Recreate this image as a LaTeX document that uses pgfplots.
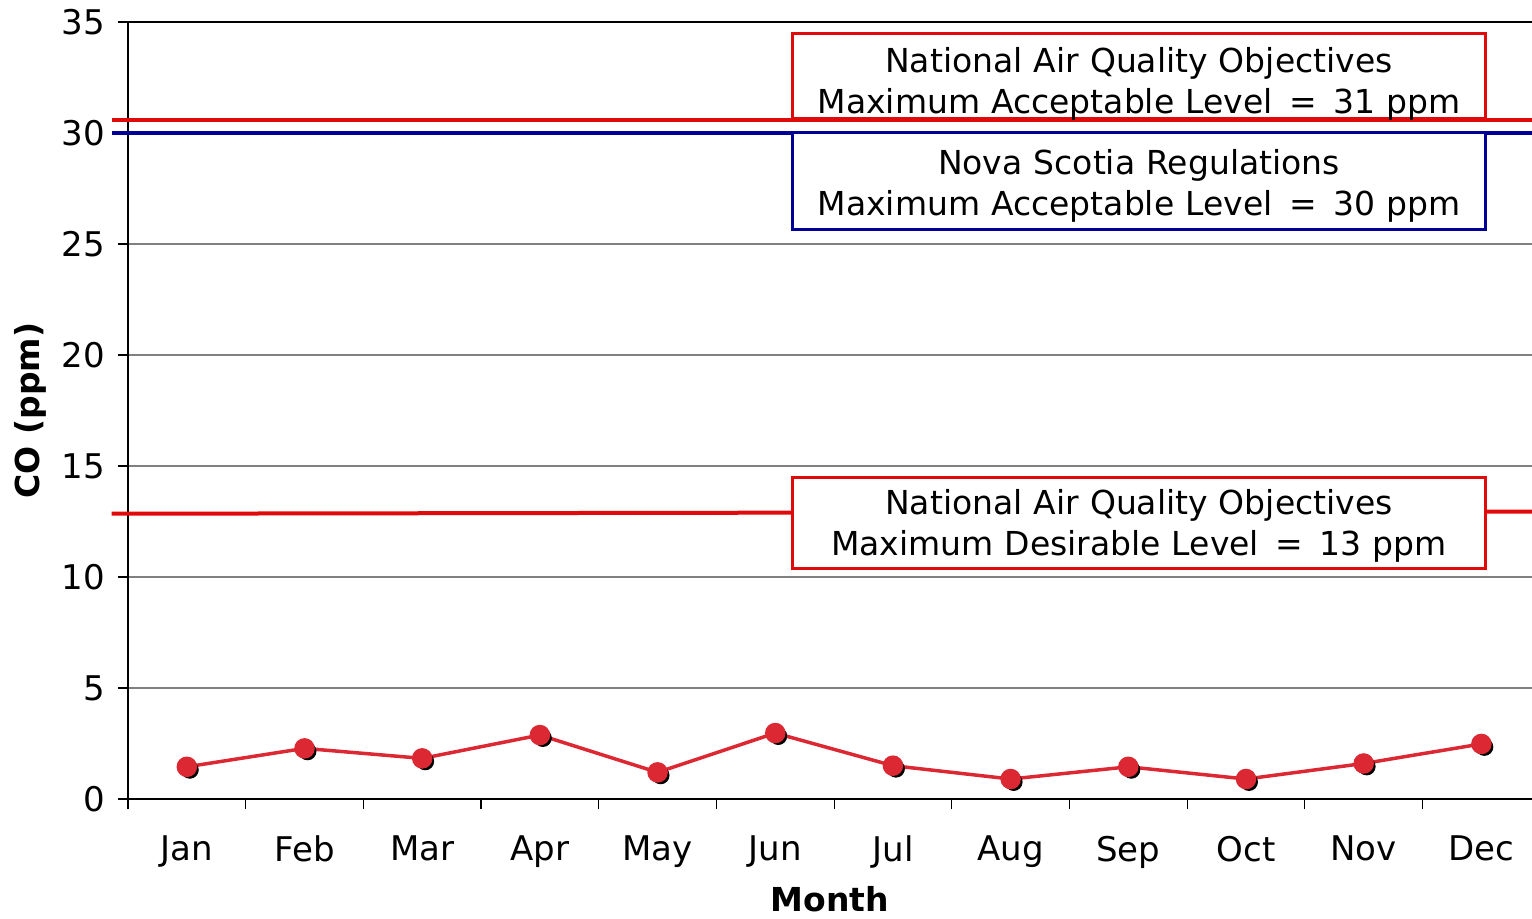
\documentclass[border=0pt]{standalone}
\usepackage{pgfplots}
\pgfplotsset{compat=1.18}
\usepackage{fontspec}
\setmainfont{DejaVu Sans}
\definecolor{lred}{RGB}{220,40,50}
\definecolor{hred}{RGB}{225,10,10}
\definecolor{hblue}{RGB}{0,0,150}
\begin{document}
\begin{tikzpicture}
\begin{axis}[
  name=ax,
  scale only axis,
  width=702bp, height=388.5bp,
  xmin=-0.5, xmax=11.43,
  ymin=0, ymax=35,
  ytick={0,5,...,35},
  xtick={0,...,11},
  xticklabels={Jan,Feb,Mar,Apr,May,Jun,Jul,Aug,Sep,Oct,Nov,Dec},
  minor xtick={-0.5,0.5,...,10.5},
  axis x line*=bottom,
  axis y line*=left,
  axis line style={line width=1bp, black},
  tick align=outside,
  major tick length=5bp,
  minor tick length=5bp,
  major x tick style={draw=none},
  minor x tick style={line width=0.6bp, black},
  major y tick style={line width=0.6bp, black},
  ymajorgrids,
  major grid style={line width=0.6bp, black!50},
  /pgf/number format/assume math mode=true,
  tick label style={font=\fontsize{17bp}{20bp}\selectfont},
  xticklabel style={yshift=-10bp},
  yticklabel style={xshift=-3bp},
  xlabel={\textbf{Month}},
  ylabel={\textbf{CO (ppm)}},
  label style={font=\fontsize{16.5bp}{20bp}\selectfont},
  xlabel style={yshift=-2bp},
  ylabel style={yshift=1bp},
  clip=false,
]
\addplot[black, line width=1bp, forget plot] coordinates {(-0.5,35) (11.43,35)};
\addplot[hred, line width=2bp, forget plot] coordinates {(-0.64,30.6) (11.43,30.6)};
\addplot[hblue, line width=2bp, forget plot] coordinates {(-0.64,30) (11.43,30)};
\addplot[hred, line width=2bp, forget plot] coordinates {(-0.64,12.85) (11.43,12.95)};
\node[draw=hred, line width=1.5bp, fill=white, minimum width=346.5bp, minimum height=42.5bp, inner sep=0pt] at (axis cs:8.09,32.55) {};
\node[text width=340bp, align=center, inner sep=0pt, font=\fontsize{16.5bp}{20.5bp}\selectfont, yshift=-4bp] at (axis cs:8.09,32.55) {National Air Quality Objectives\\Maximum Acceptable Level \,=\, 31 ppm};
\node[draw=hblue, line width=1.5bp, fill=white, minimum width=346.5bp, minimum height=48.5bp, inner sep=0pt] at (axis cs:8.09,27.86) {};
\node[text width=340bp, align=center, inner sep=0pt, font=\fontsize{16.5bp}{20.5bp}\selectfont, yshift=-2.75bp] at (axis cs:8.09,27.86) {Nova Scotia Regulations\\Maximum Acceptable Level \,=\, 30 ppm};
\node[draw=hred, line width=1.5bp, fill=white, minimum width=346.5bp, minimum height=45.5bp, inner sep=0pt] at (axis cs:8.09,12.45) {};
\node[text width=340bp, align=center, inner sep=0pt, font=\fontsize{16.5bp}{20.5bp}\selectfont, yshift=-1.75bp] at (axis cs:8.09,12.45) {National Air Quality Objectives\\Maximum Desirable Level \,=\, 13 ppm};
\addplot[only marks, mark=*, mark size=4.25bp, black, every mark/.append style={xshift=1.5bp, yshift=-1.5bp}, forget plot] coordinates {
(0,1.45) (1,2.28) (2,1.83) (3,2.88) (4,1.2) (5,2.97) (6,1.5) (7,0.9) (8,1.45) (9,0.9) (10,1.6) (11,2.48)};
\addplot[lred, line width=1.75bp, mark=*, mark size=4.25bp, mark options={fill=lred, draw=lred}] coordinates {
(0,1.45) (1,2.28) (2,1.83) (3,2.88) (4,1.2) (5,2.97) (6,1.5) (7,0.9) (8,1.45) (9,0.9) (10,1.6) (11,2.48)};
\end{axis}
\pgfresetboundingbox
\path (ax.south west) ++(-64bp,-60bp) rectangle ++(766bp,459.5bp);
\end{tikzpicture}
\end{document}
